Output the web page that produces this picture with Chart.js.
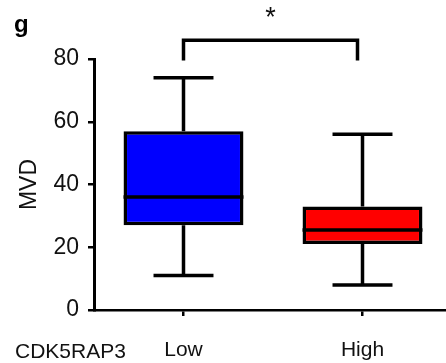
<!DOCTYPE html>
<html lang="en">
<head>
<meta charset="UTF-8" />
<title>MVD by CDK5RAP3 expression</title>
<script src="https://cdn.jsdelivr.net/npm/chart.js"></script>
<style>
  html, body { margin: 0; padding: 0; background: #fff; overflow: hidden; }
  #wrap { width: 460px; height: 363px; }
</style>
</head>
<body>
<div id="wrap"><canvas id="boxChart" width="460" height="363"></canvas></div>
<script>
  // values (MVD units)
  const groups = ['Low', 'High'];
  const whiskerMin = [11, 8];
  const q1 = [27, 21];
  const median = [36, 25.5];
  const q3 = [57, 33];
  const whiskerMax = [74, 56];
  const boxColors = ['#0000ff', '#ff0000'];
  const yTicks = [0, 20, 40, 60, 80];
  const axisTitle = 'MVD';
  const groupLabel = 'CDK5RAP3';
  const panelLetter = 'g';
  const sigMark = '*';
  const bracketFoot = 79.5;
  const bracketTop = 86;

  const FONT = '"Liberation Sans", Arial, sans-serif';
  Chart.defaults.font.family = FONT;
  Chart.defaults.color = '#111';

  // whiskers, medians, significance bracket and loose text
  const boxExtras = {
    id: 'boxExtras',
    afterDatasetsDraw(chart) {
      const { ctx, scales: { x, y } } = chart;
      const bars = chart.getDatasetMeta(0).data;
      ctx.save();
      ctx.strokeStyle = '#000';
      ctx.lineWidth = 3.5;
      ctx.lineCap = 'butt';

      groups.forEach((g, i) => {
        const cx = x.getPixelForValue(i);
        const half = bars[i].width / 2;
        const cap = half / 2;
        const yMin = y.getPixelForValue(whiskerMin[i]);
        const yMax = y.getPixelForValue(whiskerMax[i]);
        ctx.beginPath();
        ctx.moveTo(cx, y.getPixelForValue(q3[i]));
        ctx.lineTo(cx, yMax);
        ctx.moveTo(cx, y.getPixelForValue(q1[i]));
        ctx.lineTo(cx, yMin);
        ctx.moveTo(cx - cap, yMax);
        ctx.lineTo(cx + cap, yMax);
        ctx.moveTo(cx - cap, yMin);
        ctx.lineTo(cx + cap, yMin);
        const ym = y.getPixelForValue(median[i]);
        ctx.moveTo(cx - half, ym);
        ctx.lineTo(cx + half, ym);
        ctx.stroke();
      });

      // bracket between the two groups
      const x0 = x.getPixelForValue(0);
      const x1 = x.getPixelForValue(1) - 5;
      const yt = y.getPixelForValue(bracketTop);
      const yf = y.getPixelForValue(bracketFoot);
      ctx.beginPath();
      ctx.moveTo(x0, yf);
      ctx.lineTo(x0, yt);
      ctx.lineTo(x1, yt);
      ctx.lineTo(x1, yf);
      ctx.stroke();

      ctx.fillStyle = '#111';
      ctx.textAlign = 'center';
      ctx.textBaseline = 'alphabetic';
      ctx.font = '27px ' + FONT;
      ctx.fillText(sigMark, (x0 + x1) / 2, 26);

      ctx.font = '21px ' + FONT;
      ctx.textAlign = 'left';
      ctx.fillText(groupLabel, 15, 358);

      ctx.fillStyle = '#000';
      ctx.font = 'bold 24px ' + FONT;
      ctx.fillText(panelLetter, 14, 32);
      ctx.restore();
    }
  };

  new Chart(document.getElementById('boxChart'), {
    type: 'bar',
    data: {
      labels: groups,
      datasets: [{
        data: groups.map((g, i) => [q1[i], q3[i]]),
        backgroundColor: boxColors,
        borderColor: '#000',
        borderWidth: 3.5,
        borderSkipped: false,
        barPercentage: 0.67,
        categoryPercentage: 1
      }]
    },
    options: {
      responsive: false,
      animation: false,
      layout: { padding: { top: 59, right: 8, left: 0, bottom: 0 } },
      plugins: { legend: { display: false }, tooltip: { enabled: false } },
      scales: {
        x: {
          offset: true,
          grid: { offset: false, drawOnChartArea: false, color: '#000', lineWidth: 2.5, tickLength: 6 },
          border: { display: true, color: '#000', width: 2.5 },
          ticks: { font: { size: 21 }, color: '#111', padding: 22 },
          afterFit: s => { s.height = 53; }
        },
        y: {
          min: 0,
          max: 80,
          grid: { drawOnChartArea: false, color: '#000', lineWidth: 2.5, tickLength: 6 },
          border: { display: true, color: '#000', width: 3 },
          ticks: { font: { size: 23 }, color: '#111', padding: 9 },
          afterBuildTicks: s => { s.ticks = yTicks.map(v => ({ value: v })); },
          title: { display: true, text: axisTitle, font: { size: 23 }, color: '#111', padding: { top: 16, bottom: 0 } },
          afterFit: s => { s.width = 94; }
        }
      }
    },
    plugins: [boxExtras]
  });
</script>
</body>
</html>
